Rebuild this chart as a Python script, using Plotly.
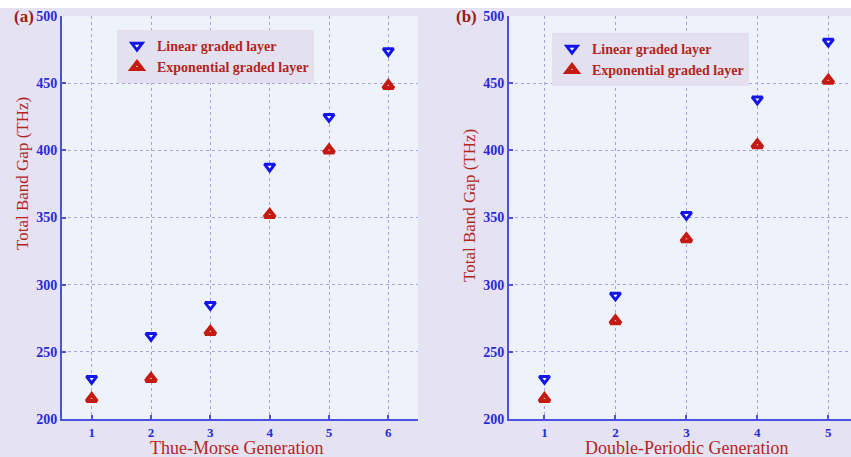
import plotly.graph_objects as go

W, H = 851, 457

# ---- data ----
gen_a = [1, 2, 3, 4, 5, 6]
linear_a = [230, 262, 285, 388, 425, 474]
expo_a = [215, 230, 265, 352, 400, 448]

gen_b = [1, 2, 3, 4, 5]
linear_b = [230, 292, 352, 438, 481]
expo_b = [215, 273, 334, 404, 452]

y_ticks = [200, 250, 300, 350, 400, 450, 500]
series_names = ["Linear graded layer", "Exponential graded layer"]
x_titles = ["Thue-Morse Generation", "Double-Periodic Generation"]
y_title = "Total Band Gap (THz)"
panel_labels = ["(a)", "(b)"]

BLUE = "#1414f0"
RED = "#c41a12"
TICK = "#2a2ad8"
AXIS = "#5050e0"
GRID = "#a4a4e0"
TITLE_RED = "#b3261e"
SERIF = "Liberation Serif, Times New Roman, serif"

def px_x(p):
    return p / W

def px_y(p):
    return 1 - p / H

fig = go.Figure()

def add_series(x, lin, exp, xa, ya, legend):
    fig.add_trace(go.Scatter(
        x=x, y=lin, mode="markers", name=series_names[0], xaxis=xa, yaxis=ya,
        legend=legend,
        marker=dict(symbol="triangle-down", size=9, color="white",
                    line=dict(color=BLUE, width=3)),
    ))
    fig.add_trace(go.Scatter(
        x=x, y=exp, mode="markers", name=series_names[1], xaxis=xa, yaxis=ya,
        legend=legend,
        marker=dict(symbol="triangle-up", size=9, color="#f2d0cc",
                    line=dict(color=RED, width=4)),
    ))

add_series(gen_a, linear_a, expo_a, "x", "y", "legend")
add_series(gen_b, linear_b, expo_b, "x2", "y2", "legend2")

ydom = [px_y(419), px_y(16)]

axis_common = dict(
    showline=True, linecolor=AXIS, linewidth=2,
    showgrid=True, gridcolor=GRID, griddash="dot", gridwidth=1,
    ticks="inside", ticklen=4, tickcolor=AXIS, tickwidth=1.5,
    zeroline=False, mirror=False, automargin=False,
)
ytickfont = dict(family=SERIF, size=14, color=TICK, weight="bold")
xtickfont = dict(family=SERIF, size=13, color=TICK, weight="bold")

legend_font = dict(family=SERIF, size=14, color=TITLE_RED, weight="bold")

fig.update_layout(
    template="none",
    width=W, height=H,
    margin=dict(l=0, r=0, t=0, b=0, pad=0),
    paper_bgcolor="#e4e2f3",
    plot_bgcolor="#eef3fb",
    showlegend=True,
    xaxis=dict(domain=[px_x(62), px_x(418)], range=[0.5, 6.5],
               tickvals=gen_a, anchor="y", tickfont=xtickfont, **axis_common),
    yaxis=dict(domain=ydom, range=[200, 500], tickvals=y_ticks,
               anchor="x", tickfont=ytickfont, **axis_common),
    xaxis2=dict(domain=[px_x(509), 1.0], range=[0.5, 5.32],
                tickvals=gen_b, anchor="y2", tickfont=xtickfont, **axis_common),
    yaxis2=dict(domain=ydom, range=[200, 500], tickvals=y_ticks,
                anchor="x2", tickfont=ytickfont, **axis_common),
    legend=dict(x=px_x(117), y=px_y(30), xanchor="left", yanchor="top",
                bgcolor="#e3e1ef", borderwidth=0, font=legend_font),
    legend2=dict(x=px_x(552), y=px_y(33), xanchor="left", yanchor="top",
                 bgcolor="#e3e1ef", borderwidth=0, font=legend_font),
    shapes=[dict(type="rect", xref="paper", yref="paper", x0=0, x1=1,
                 y0=px_y(8), y1=1, fillcolor="white", line=dict(width=0),
                 layer="below")],
)

annotations = [
    dict(text=x_titles[0], x=px_x(236), y=px_y(448), font=dict(size=18)),
    dict(text=x_titles[1], x=px_x(686), y=px_y(448), font=dict(size=18)),
    dict(text=y_title, x=px_x(22), y=px_y(174), textangle=-90, font=dict(size=17)),
    dict(text=y_title, x=px_x(469), y=px_y(205), textangle=-90, font=dict(size=17)),
    dict(text=panel_labels[0], x=px_x(24), y=px_y(16),
         font=dict(size=17, weight="bold", color="#9e1b16")),
    dict(text=panel_labels[1], x=px_x(466), y=px_y(16),
         font=dict(size=17, weight="bold", color="#9e1b16")),
]
for a in annotations:
    f = dict(family=SERIF, color=TITLE_RED)
    f.update(a.pop("font"))
    fig.add_annotation(xref="paper", yref="paper", showarrow=False,
                       xanchor="center", yanchor="middle", font=f, **a)

fig.write_html("out.html")
